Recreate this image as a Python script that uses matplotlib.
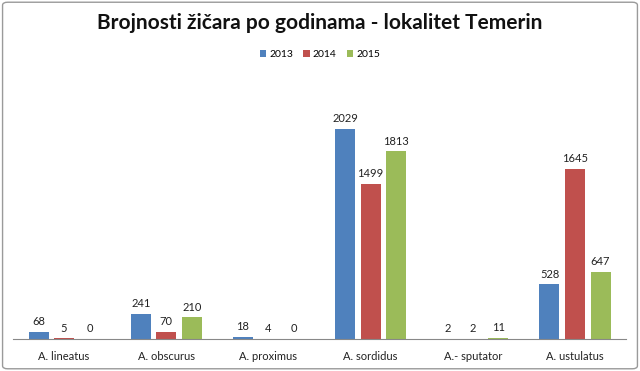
import numpy as np
import matplotlib
matplotlib.use("Agg")
import matplotlib.pyplot as plt
from matplotlib.patches import FancyBboxPatch

vrste = ["A. lineatus", "A. obscurus", "A. proximus", "A. sordidus", "A.- sputator", "A. ustulatus"]
god_2013 = [68, 241, 18, 2029, 2, 528]
god_2014 = [5, 70, 4, 1499, 2, 1645]
god_2015 = [0, 210, 0, 1813, 11, 647]
godine = ["2013", "2014", "2015"]
boje = ["#4F81BD", "#C0504D", "#9BBB59"]

plt.rcParams['font.family'] = ['Lato', 'DejaVu Sans']

fig = plt.figure(figsize=(6.4, 3.71), dpi=100)
ax = fig.add_axes([0.0203, 0.0863, 0.958, 0.698])

x = np.arange(len(vrste))
w = 0.196
for i, (vals, lab, c) in enumerate(zip([god_2013, god_2014, god_2015], godine, boje)):
    bars = ax.bar(x + (i - 1) * 0.25, vals, w, color=c, label=lab)
    for b, v in zip(bars, vals):
        ax.text(b.get_x() + b.get_width() / 2, v + 45, str(v), ha='center', va='bottom',
                fontsize=8, color='#222222')

ax.set_xlim(-0.5, len(vrste) - 0.5)
ax.set_ylim(0, 2500)
ax.set_yticks([])
ax.set_xticks(x)
ax.set_xticklabels(vrste, fontsize=8, color='#222222')
ax.tick_params(axis='x', length=0, pad=8.5)
for s in ['top', 'right', 'left']:
    ax.spines[s].set_visible(False)
ax.spines['bottom'].set_color('#888888')

fig.text(0.5, 0.938, "Brojnosti žičara po godinama - lokalitet Temerin", ha='center', va='center',
         fontsize=15, fontweight='bold', color='#111111')
fig.legend(loc='center', bbox_to_anchor=(0.5, 0.852), ncol=3, frameon=False, fontsize=7.5,
           handlelength=0.6, handleheight=0.6, handletextpad=0.3, columnspacing=1.0)

fig.patches.append(FancyBboxPatch((0.004, 0.006), 0.992, 0.988, boxstyle="round,pad=0,rounding_size=0.008",
                                  transform=fig.transFigure, fill=False, edgecolor='#9a9a9a', linewidth=1.0))

fig.savefig("out.png", dpi=100)
